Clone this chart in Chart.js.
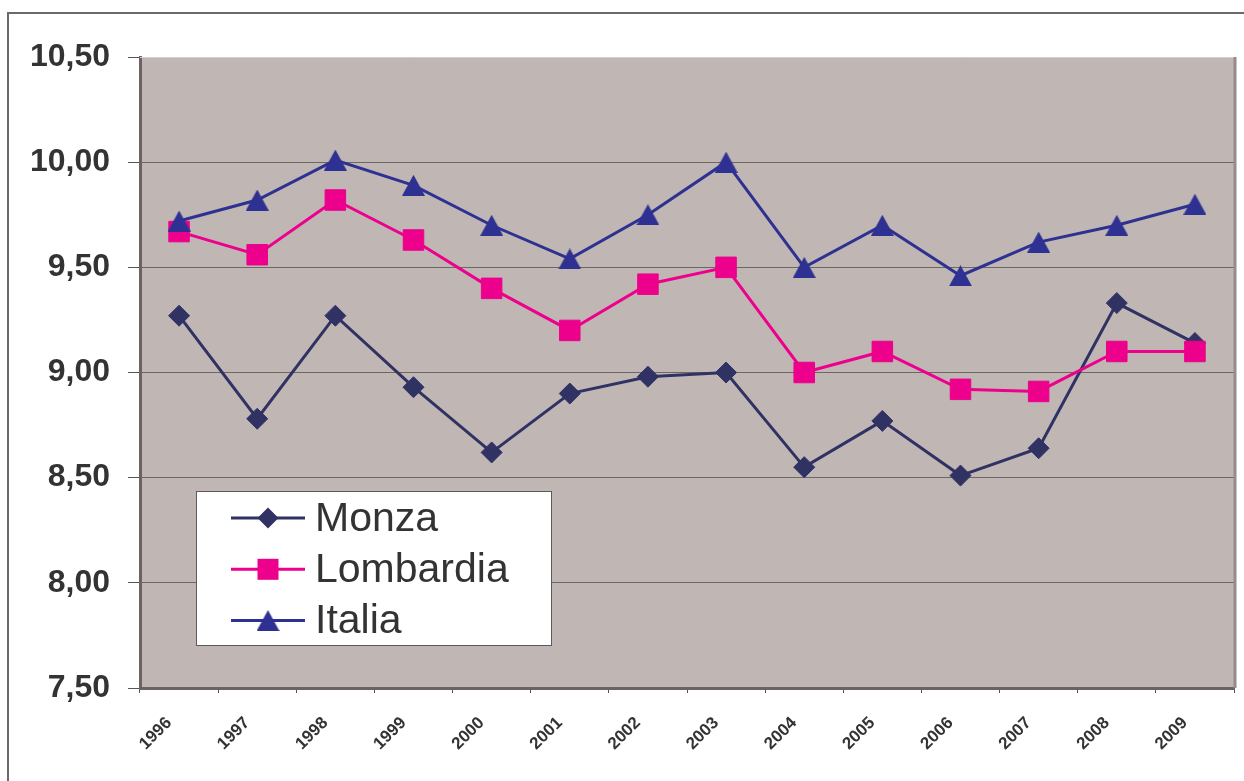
<!DOCTYPE html>
<html>
<head>
<meta charset="utf-8">
<script src="https://cdn.jsdelivr.net/npm/chart.js@4"></script>
<style>
	body { margin: 0; background: #fff; }
	.chart-box { position: relative; width: 1244px; height: 781px; }
</style>
</head>
<body>
<div class="chart-box"><canvas id="chart"></canvas></div>
<script>
const years = ['1996', '1997', '1998', '1999', '2000', '2001', '2002', '2003', '2004', '2005', '2006', '2007', '2008', '2009'];
const monza = [9.27, 8.78, 9.27, 8.93, 8.62, 8.90, 8.98, 9.00, 8.55, 8.77, 8.51, 8.64, 9.33, 9.14];
const lombardia = [9.67, 9.56, 9.82, 9.63, 9.40, 9.20, 9.42, 9.50, 9.00, 9.10, 8.92, 8.91, 9.10, 9.10];
const italia = [9.72, 9.82, 10.01, 9.89, 9.70, 9.54, 9.75, 10.00, 9.50, 9.70, 9.46, 9.62, 9.70, 9.80];
const seriesNames = ['Monza', 'Lombardia', 'Italia'];

const colMonza = '#303264',
	colLombardia = '#ec008c',
	colItalia = '#2e3192';

// triangle marker centred on its box, like the spreadsheet one
function triangleMarker(color) {
	const c = document.createElement('canvas');
	c.width = 23;
	c.height = 21;
	const g = c.getContext('2d');
	g.fillStyle = color;
	g.beginPath();
	g.moveTo(11.5, 0);
	g.lineTo(23, 21);
	g.lineTo(0, 21);
	g.closePath();
	g.fill();
	return c;
}
const triangle = triangleMarker(colItalia);

const frame = {
	id: 'frame',
	beforeDraw(chart) {
		const {ctx, chartArea: a} = chart;
		ctx.save();
		ctx.fillStyle = '#c0b7b4';
		ctx.fillRect(a.left, a.top, a.right - a.left, a.bottom - a.top);
		// outer frame
		ctx.strokeStyle = '#6a6a6a';
		ctx.lineWidth = 2;
		ctx.beginPath();
		ctx.moveTo(8, 800);
		ctx.lineTo(8, 13);
		ctx.lineTo(1260, 13);
		ctx.stroke();
		ctx.restore();
	},
	beforeDatasetsDraw(chart) {
		const {ctx, chartArea: a} = chart;
		ctx.save();
		ctx.strokeStyle = '#d6cfcc';
		ctx.lineWidth = 1;
		ctx.beginPath();
		ctx.moveTo(a.left, a.top + 0.5);
		ctx.lineTo(a.right, a.top + 0.5);
		ctx.stroke();
		ctx.strokeStyle = '#958b88';
		ctx.lineWidth = 3;
		ctx.beginPath();
		ctx.moveTo(a.right + 1, a.top);
		ctx.lineTo(a.right + 1, a.bottom);
		ctx.stroke();
		ctx.restore();
	},
	afterDraw(chart) {
		const ctx = chart.ctx;
		ctx.save();
		ctx.fillStyle = '#fff';
		ctx.fillRect(196, 491, 356, 155);
		ctx.strokeStyle = '#5a5a5a';
		ctx.lineWidth = 1;
		ctx.strokeRect(196.5, 491.5, 355, 154);
		chart.data.datasets.forEach((ds, i) => {
			const y = 518 + i * 51.3;
			ctx.strokeStyle = ds.borderColor;
			ctx.lineWidth = 3;
			ctx.beginPath();
			ctx.moveTo(231, y);
			ctx.lineTo(305, y);
			ctx.stroke();
			ctx.fillStyle = ds.borderColor;
			if (i === 0) {
				ctx.beginPath();
				ctx.moveTo(268, y - 10.5);
				ctx.lineTo(278.5, y);
				ctx.lineTo(268, y + 10.5);
				ctx.lineTo(257.5, y);
				ctx.closePath();
				ctx.fill();
			} else if (i === 1) {
				ctx.fillRect(257.5, y - 10.5, 21, 21);
			} else {
				ctx.drawImage(triangle, 268 - 11.5, y - 10.5);
			}
			ctx.fillStyle = '#333';
			ctx.font = '41px "Liberation Sans", Arial, sans-serif';
			ctx.textBaseline = 'middle';
			ctx.fillText(ds.label, 315, y + 1.5);
		});
		ctx.restore();
	}
};

const ctx = document.getElementById('chart').getContext('2d');

new Chart(ctx, {
	type: 'line',
	data: {
		labels: years,
		datasets: [
			{
				label: seriesNames[0],
				data: monza,
				borderColor: colMonza,
				backgroundColor: colMonza,
				borderWidth: 3,
				pointStyle: 'rectRot',
				pointRadius: 10.5,
				pointBorderWidth: 1,
				order: 2,
			},
			{
				label: seriesNames[1],
				data: lombardia,
				borderColor: colLombardia,
				backgroundColor: colLombardia,
				borderWidth: 3,
				pointStyle: 'rect',
				pointRadius: 14.5,
				pointBorderWidth: 1,
				order: 1,
			},
			{
				label: seriesNames[2],
				data: italia,
				borderColor: colItalia,
				backgroundColor: colItalia,
				borderWidth: 3,
				pointStyle: triangle,
				pointRadius: 10,
				order: 0,
			},
		]
	},
	options: {
		responsive: true,
		maintainAspectRatio: false,
		animation: false,
		layout: {
			autoPadding: false,
			padding: {left: 0, top: 57, right: 10, bottom: 0}
		},
		scales: {
			x: {
				offset: true,
				afterFit(scale) {
					scale.height = 93;
					scale.paddingLeft = 0;
					scale.paddingRight = 0;
				},
				border: {color: '#6b6361', width: 3},
				grid: {
					offset: true,
					drawOnChartArea: false,
					tickLength: 5,
					tickColor: '#555',
				},
				ticks: {
					minRotation: 45,
					maxRotation: 45,
					autoSkip: false,
					padding: 20,
					labelOffset: -10,
					color: '#333',
					font: {family: '"Liberation Sans", Arial, sans-serif', size: 17, weight: 'bold'},
				}
			},
			y: {
				min: 7.5,
				max: 10.5,
				afterFit(scale) { scale.width = 140; },
				border: {color: '#6b6361', width: 3},
				grid: {
					color: (c) => (c.tick && (c.tick.value === 7.5 || c.tick.value === 10.5)) ? 'rgba(0,0,0,0)' : '#6e6664',
					lineWidth: 1,
					tickLength: 12,
					tickColor: '#555',
				},
				ticks: {
					stepSize: 0.5,
					padding: 18,
					color: '#333',
					font: {family: '"Liberation Sans", Arial, sans-serif', size: 32, weight: 'bold'},
					callback: (v) => v.toFixed(2).replace('.', ','),
				}
			}
		},
		plugins: {
			legend: {display: false},
			tooltip: {enabled: false},
		}
	},
	plugins: [frame]
});
</script>
</body>
</html>
